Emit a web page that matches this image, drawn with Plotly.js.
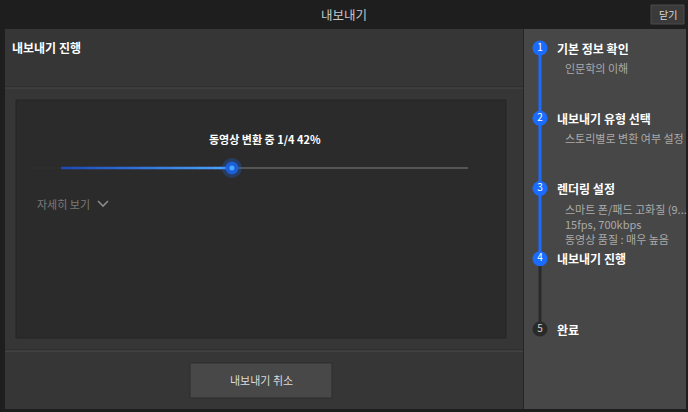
<!DOCTYPE html>
<html><head><meta charset="utf-8">
<script src="https://cdn.plot.ly/plotly-3.0.1.min.js"></script>
<style>html,body{margin:0;padding:0;background:#1e1e1e;}#chart{width:688px;height:412px;}</style>
</head><body><div id="chart"></div>
<script>
// ---- data ----
const windowTitle = '내보내기';
const closeLabel = '닫기';
const sectionTitle = '내보내기 진행';
const cancelLabel = '내보내기 취소';
const detailsLabel = '자세히 보기';
const steps = ['기본 정보 확인', '내보내기 유형 선택', '렌더링 설정', '내보내기 진행', '완료'];
const stepNumbers = [1, 2, 3, 4, 5];
const stepDetails = [
  ['인문학의 이해'],
  ['스토리별로 변환 여부 설정'],
  ['스마트 폰/패드 고화질 (9...', '15fps, 700kbps', '동영상 품질 : 매우 높음'],
  [],
  []
];
const currentStep = 4;
const currentItem = 1;
const totalItems = 4;
const progressPercent = 42;

// ---- layout constants ----
const W = 688, H = 412;
const FONT = '"Noto Sans CJK KR", "Noto Sans", sans-serif';
const stepX = 540, stepY0 = 48, stepGap = 70.25;
const stepYs = stepNumbers.map((n, i) => stepY0 + i * stepGap);
const barX0 = 61, barX1 = 468, barY = 168;
const barXp = barX0 + (barX1 - barX0) * progressPercent / 100;

const shapes = [];
function rect(x0, y0, x1, y1, fill, line, lw) {
  shapes.push({type: 'rect', xref: 'x', yref: 'y', x0, y0, x1, y1, fillcolor: fill,
    line: {color: line || fill, width: lw === undefined ? 0 : lw}, layer: 'below'});
}
function hline(x0, x1, y, color, w) {
  shapes.push({type: 'line', xref: 'x', yref: 'y', x0, x1, y0: y, y1: y, line: {color, width: w || 1}, layer: 'below'});
}
// window
rect(0, 0, W, H, '#1e1e1e');
rect(5, 29, 523, 409, '#363636');
rect(524, 29, 686, 409, '#474747');
shapes.push({type: 'line', xref: 'x', yref: 'y', x0: 523.5, x1: 523.5, y0: 29, y1: 409, line: {color: '#262626', width: 1}, layer: 'below'});
hline(5, 523, 87, '#2a2a2a', 1);
hline(5, 523, 88, '#474747', 1);
rect(16, 100, 506, 338, '#2b2b2b', '#242424', 1);
hline(5, 523, 350, '#2a2a2a', 1);
hline(5, 523, 351, '#4a4a4a', 1);
// buttons
rect(190, 363, 332, 398, '#484848', '#2c2c2c', 1);
rect(651, 5, 684, 24, '#3a3a3a', '#4a4a4a', 1);
// progress track
hline(barXp, barX1, barY, '#555555', 2);
hline(33, barX0, barY, '#2d2d2d', 2);
// gradient progress segments (style only)
const segs = 30;
for (let i = 0; i < segs; i++) {
  const t = i / (segs - 1);
  const r = Math.round(0x1c + (0x4c - 0x1c) * t);
  const g = Math.round(0x4a + (0xa4 - 0x4a) * t);
  const b = Math.round(0xb8 + (0xff - 0xb8) * t);
  const xa = barX0 + (barXp - barX0) * i / segs;
  const xb = barX0 + (barXp - barX0) * (i + 1) / segs;
  shapes.push({type: 'line', xref: 'x', yref: 'y', x0: xa, x1: xb + 0.5, y0: barY, y1: barY,
    line: {color: `rgb(${r},${g},${b})`, width: 2.5}, layer: 'below'});
}
// chevron
shapes.push({type: 'path', xref: 'x', yref: 'y', path: 'M 98 201 L 103 206 L 108 201',
  line: {color: '#8a8a8a', width: 1.6}});

const annotations = [];
function txt(x, y, text, size, color, anchor, bold) {
  annotations.push({x, y, xref: 'x', yref: 'y', text: bold ? '<b>' + text + '</b>' : text,
    showarrow: false, xanchor: anchor || 'left', yanchor: 'middle',
    font: {family: FONT, size, color}});
}
txt(344, 14, windowTitle, 12.5, '#c8c8c8', 'center');
txt(667.5, 14.5, closeLabel, 10, '#d8d8d8', 'center');
txt(10, 47, sectionTitle, 12, '#ffffff', 'left', true);
txt(265, 139, `동영상 변환 중 ${currentItem}/${totalItems} ${progressPercent}%`, 11, '#ffffff', 'center', true);
txt(35, 204, detailsLabel, 11, '#7a7a7a', 'left');
txt(261, 380, cancelLabel, 11, '#dcdcdc', 'center');
steps.forEach((s, i) => {
  txt(555, stepYs[i], s, 12, '#ffffff', 'left', true);
  stepDetails[i].forEach((d, j) => {
    txt(563, stepYs[i] + 20 + j * 15.3, d, 11, '#aaaaaa', 'left');
  });
});

const cur = currentStep - 1;
const traces = [
  {x: stepYs.slice(cur).map(() => stepX), y: stepYs.slice(cur), mode: 'lines',
   line: {color: '#2a2a2a', width: 3}, hoverinfo: 'skip'},
  {x: stepYs.slice(0, cur + 1).map(() => stepX), y: stepYs.slice(0, cur + 1), mode: 'lines',
   line: {color: '#1a6cff', width: 3}, hoverinfo: 'skip'},
  {x: [barXp], y: [barY], mode: 'markers', marker: {size: 20, color: 'rgba(30,110,255,0.25)'}, hoverinfo: 'skip'},
  {x: [barXp], y: [barY], mode: 'markers', marker: {size: 13, color: '#1a5fd8', line: {width: 0}}, hoverinfo: 'skip'},
  {x: [barXp], y: [barY], mode: 'markers', marker: {size: 5, color: '#4aa8ff'}, hoverinfo: 'skip'},
  {x: stepYs.map(() => stepX), y: stepYs, mode: 'markers+text',
   text: stepNumbers.map(String), textposition: 'middle center',
   textfont: {family: FONT, size: 10, color: stepNumbers.map(n => n <= currentStep ? '#ffffff' : '#cfcfcf')},
   marker: {size: 15, color: stepNumbers.map(n => n <= currentStep ? '#1a6cff' : '#2a2a2a')},
   hoverinfo: 'skip'}
];

const layout = {
  width: W, height: H, margin: {l: 0, r: 0, t: 0, b: 0},
  paper_bgcolor: '#1e1e1e', plot_bgcolor: '#1e1e1e', showlegend: false,
  xaxis: {range: [0, W], visible: false, fixedrange: true},
  yaxis: {range: [H, 0], visible: false, fixedrange: true},
  shapes, annotations
};
Plotly.newPlot('chart', traces, layout, {staticPlot: true, displayModeBar: false});
</script></body></html>
